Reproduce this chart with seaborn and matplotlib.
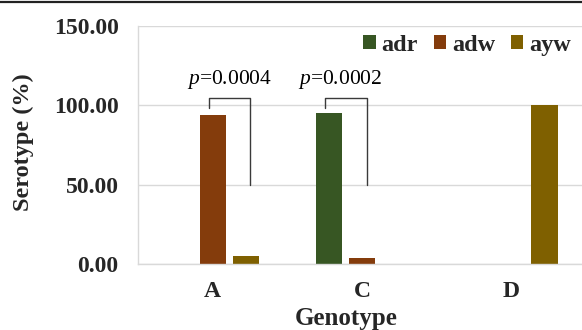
import matplotlib
matplotlib.use("Agg")
import matplotlib.pyplot as plt
import seaborn as sns
import pandas as pd
import numpy as np
from matplotlib.ticker import FormatStrFormatter

# --- data ---
genotypes = ['A', 'C', 'D']
serotypes = ['adr', 'adw', 'ayw']
adr = [0.0, 95.2, 0.0]
adw = [94.1, 3.9, 0.0]
ayw = [5.3, 0.0, 100.0]
yticks = [0, 50, 100, 150]

# significance brackets: genotype, left serotype, right serotype, label
sig_genotype = ['A', 'C']
sig_left = ['adw', 'adr']
sig_right = ['ayw', 'adw']
sig_pvalue = ['0.0004', '0.0002']

colors = ['#375623', '#843C0C', '#7F6000']

sns.set_theme(style="whitegrid", rc={'grid.color': '#d9d9d9', 'grid.linewidth': 1.0})
plt.rcParams['font.family'] = ['Liberation Serif', 'DejaVu Serif']
plt.rcParams['mathtext.fontset'] = 'custom'
plt.rcParams['mathtext.it'] = 'Liberation Serif:italic'
plt.rcParams['mathtext.rm'] = 'Liberation Serif'

rows = []
for g, a, b, c in zip(genotypes, adr, adw, ayw):
    for s, v in zip(serotypes, [a, b, c]):
        if v > 0:
            rows.append({'Genotype': g, 'Serotype': s, 'Value': v})
df = pd.DataFrame(rows)

fig = plt.figure(figsize=(5.82, 3.30), dpi=100)
ax = fig.add_axes([138 / 582, 1 - 264.3 / 330, 448 / 582, 238.3 / 330])

group_w = 0.665
sns.barplot(data=df, x='Genotype', y='Value', hue='Serotype',
            order=genotypes, hue_order=serotypes, palette=colors, saturation=1,
            width=group_w, gap=0.21, errorbar=None, linewidth=0, ax=ax)

ax.set_ylim(0, 150)
ax.set_xlim(-0.5, len(genotypes) - 0.5)
ax.set_yticks(yticks)
ax.yaxis.set_major_formatter(FormatStrFormatter('%.2f'))
ax.xaxis.grid(False)
ax.yaxis.grid(True)
ax.set_axisbelow(True)
ax.set_xlabel('')
ax.set_ylabel('')
ax.tick_params(axis='y', length=0, pad=14, labelsize=17)
ax.tick_params(axis='x', length=0, pad=12, labelsize=17)
for lab in ax.get_xticklabels() + ax.get_yticklabels():
    lab.set_fontweight('bold')
for side in ['top', 'right']:
    ax.spines[side].set_visible(False)
for side in ['left', 'bottom']:
    ax.spines[side].set_color('#d9d9d9')
    ax.spines[side].set_linewidth(1.0)

# legend rebuilt at the top right
leg = ax.get_legend()
handles = leg.legend_handles
labels = [t.get_text() for t in leg.get_texts()]
leg.remove()
fig.legend(handles, labels, loc='center right', ncol=3, frameon=False,
           bbox_to_anchor=(571 / 582, 1 - 45.5 / 330), bbox_transform=fig.transFigure,
           borderpad=0, borderaxespad=0, handlelength=0.5, handleheight=0.5,
           handletextpad=0.25, columnspacing=0.65,
           prop={'family': 'Liberation Serif', 'weight': 'bold', 'size': 17.5})

# bar positions from the drawn patches
step = group_w / len(serotypes)
bars = {}
for p in ax.patches:
    if p.get_height() <= 0:
        continue
    cx = p.get_x() + p.get_width() / 2
    gi = int(round(cx))
    hi = int(round((cx - gi) / step)) + 1
    if 0 <= hi < len(serotypes):
        bars[(genotypes[gi], serotypes[hi])] = p

text_shift = [0.0, -0.04]
for g, l, r, pv, dx in zip(sig_genotype, sig_left, sig_right, sig_pvalue, text_shift):
    pl, pr = bars[(g, l)], bars[(g, r)]
    x0 = pl.get_x() + 0.37 * pl.get_width()
    x1 = pr.get_x() + 0.68 * pr.get_width()
    ax.plot([x0, x0, x1, x1], [98.4, 104.5, 104.5, 50], color='#3a3a3a', lw=1.0, zorder=5)
    ax.text((x0 + x1) / 2 + dx, 116.5, f'$p$={pv}', ha='center', va='center',
            fontsize=15.5, color='black')

fig.text(23 / 582, 1 - 142.5 / 330, 'Serotype (%)', rotation=90, ha='center', va='center',
         fontsize=17.5, fontweight='bold')
fig.text(346 / 582, 0.5 / 330, 'Genotype', ha='center', va='bottom',
         fontsize=18, fontweight='bold')

# thin frame line along the top edge
fig.add_artist(plt.Line2D([0, 1], [1 - 1.5 / 330] * 2, color='#222222', lw=1.6,
                          transform=fig.transFigure))

fig.savefig('out.png', dpi=100)
